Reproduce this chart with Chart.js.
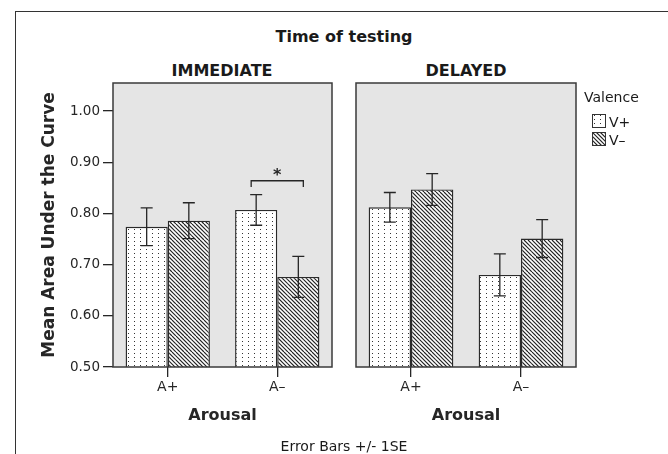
<!DOCTYPE html>
<html>
<head>
<meta charset="utf-8">
<script src="https://cdn.jsdelivr.net/npm/chart.js@4.4.1/dist/chart.umd.min.js"></script>
<style>
body { margin: 0; background: #fff; overflow: hidden; width: 668px; height: 454px; position: relative;
       font-family: 'DejaVu Sans', sans-serif; color: #1a1a1a; }
.frame { position: absolute; left: 15px; top: 11px; width: 700px; height: 500px; border: 1.5px solid #333; }
canvas.c { position: absolute; top: 0; }
.t { position: absolute; transform: translate(-50%, -50%); white-space: nowrap; }
.l { position: absolute; white-space: nowrap; transform: translateY(-50%); }
.sw { position: absolute; }
</style>
</head>
<body>
<div class="frame"></div>
<div class="t" style="left:344px;top:36px;font-weight:bold;font-size:16px">Time of testing</div>
<div class="t" style="left:222px;top:70px;font-weight:bold;font-size:16px">IMMEDIATE</div>
<div class="t" style="left:466px;top:70px;font-weight:bold;font-size:16px">DELAYED</div>
<canvas id="left" class="c" width="340" height="454" style="left:0"></canvas>
<canvas id="right" class="c" width="328" height="454" style="left:340px"></canvas>
<div class="l" style="left:584px;top:97px;font-size:14px">Valence</div>
<canvas id="swPos" class="sw" width="14" height="14" style="left:592px;top:114px"></canvas>
<div class="l" style="left:609px;top:122px;font-size:14px">V+</div>
<canvas id="swNeg" class="sw" width="14" height="14" style="left:592px;top:132px"></canvas>
<div class="l" style="left:609px;top:140px;font-size:14px">V–</div>
<div class="t" style="left:344px;top:446px;font-size:14px">Error Bars +/- 1SE</div>

<script>
// categories and values
const arousal = ['A+', 'A–'];
const valence = ['V+', 'V–'];
const yTicks = [0.50, 0.60, 0.70, 0.80, 0.90, 1.00];

const immediateVpos = [0.774, 0.807];
const immediateVneg = [0.786, 0.676];
const immediateVposSE = [0.037, 0.030];
const immediateVnegSE = [0.035, 0.040];

const delayedVpos = [0.812, 0.680];
const delayedVneg = [0.847, 0.751];
const delayedVposSE = [0.029, 0.041];
const delayedVnegSE = [0.031, 0.037];

const sigLevel = 0.864; // bracket over immediate A-

const ink = '#262626';

function dotPattern(ctx) {
    const c = document.createElement('canvas');
    c.width = 6; c.height = 4;
    const g = c.getContext('2d');
    g.fillStyle = '#fff';
    g.fillRect(0, 0, 6, 4);
    g.fillStyle = '#333';
    g.fillRect(2, 1, 1, 1);
    return ctx.createPattern(c, 'repeat');
}

function hatchPattern(ctx) {
    const c = document.createElement('canvas');
    c.width = 16; c.height = 16;
    const g = c.getContext('2d');
    g.fillStyle = '#fff';
    g.fillRect(0, 0, 16, 16);
    g.strokeStyle = '#222';
    g.lineWidth = 1.2;
    for (let k = -16; k <= 16; k += 4) {
        g.beginPath();
        g.moveTo(k, 0);
        g.lineTo(k + 16, 16);
        g.stroke();
    }
    return ctx.createPattern(c, 'repeat');
}

const panelPlugin = {
    id: 'panel',
    beforeDatasetsDraw(chart) {
        const a = chart.chartArea, ctx = chart.ctx;
        ctx.save();
        ctx.fillStyle = '#e5e5e5';
        ctx.fillRect(a.left, a.top, a.right - a.left, a.bottom - a.top);
        ctx.restore();
    },
    afterDatasetsDraw(chart) {
        const ctx = chart.ctx, y = chart.scales.y, a = chart.chartArea;
        ctx.save();
        ctx.strokeStyle = ink;
        ctx.lineWidth = 1.3;
        chart.data.datasets.forEach((ds, i) => {
            chart.getDatasetMeta(i).data.forEach((bar, j) => {
                const v = ds.data[j], se = ds.se[j];
                const top = y.getPixelForValue(v + se), bot = y.getPixelForValue(v - se);
                ctx.beginPath();
                ctx.moveTo(bar.x, top); ctx.lineTo(bar.x, bot);
                ctx.moveTo(bar.x - 6, top); ctx.lineTo(bar.x + 6, top);
                ctx.moveTo(bar.x - 6, bot); ctx.lineTo(bar.x + 6, bot);
                ctx.stroke();
            });
        });
        ctx.strokeStyle = '#3a3a3a';
        ctx.lineWidth = 1.5;
        ctx.strokeRect(a.left, a.top, a.right - a.left, a.bottom - a.top);
        ctx.restore();
    }
};

const bracketPlugin = {
    id: 'bracket',
    afterDatasetsDraw(chart) {
        const ctx = chart.ctx, y = chart.scales.y;
        const x1 = chart.getDatasetMeta(0).data[1].x - 5;
        const x2 = chart.getDatasetMeta(1).data[1].x + 5;
        const yb = y.getPixelForValue(sigLevel);
        const ye = y.getPixelForValue(sigLevel - 0.012);
        ctx.save();
        ctx.strokeStyle = ink;
        ctx.lineWidth = 1.3;
        ctx.beginPath();
        ctx.moveTo(x1, ye); ctx.lineTo(x1, yb); ctx.lineTo(x2, yb); ctx.lineTo(x2, ye);
        ctx.stroke();
        ctx.fillStyle = ink;
        ctx.font = 'bold 16px "DejaVu Sans"';
        ctx.textAlign = 'center';
        ctx.textBaseline = 'alphabetic';
        ctx.fillText('*', (x1 + x2) / 2, yb - 1);
        ctx.restore();
    }
};

function makePanel(id, vpos, vneg, vposSE, vnegSE, showY, padding, plugins) {
    const ctx = document.getElementById(id).getContext('2d');
    return new Chart(ctx, {
        type: 'bar',
        data: {
            labels: arousal,
            datasets: [
                { label: valence[0], data: vpos, se: vposSE, backgroundColor: dotPattern(ctx),
                  borderColor: '#2a2a2a', borderWidth: 1.4 },
                { label: valence[1], data: vneg, se: vnegSE, backgroundColor: hatchPattern(ctx),
                  borderColor: '#2a2a2a', borderWidth: 1.4 }
            ]
        },
        options: {
            responsive: false,
            animation: false,
            devicePixelRatio: 1,
            layout: { padding: padding },
            categoryPercentage: 0.77,
            barPercentage: 1.0,
            plugins: { legend: { display: false }, tooltip: { enabled: false } },
            scales: {
                x: {
                    offset: true,
                    afterFit: s => { s.height = 87; },
                    grid: { offset: false, drawOnChartArea: false, drawTicks: true, tickLength: 10,
                            tickColor: ink, lineWidth: 1.3 },
                    border: { display: false },
                    ticks: { color: ink, padding: 2, maxRotation: 0, font: { family: 'DejaVu Sans', size: 14 } },
                    title: { display: true, text: 'Arousal', color: ink, padding: { top: 0, bottom: 29 },
                             font: { family: 'DejaVu Sans', size: 16, weight: 'bold' } }
                },
                y: {
                    display: showY,
                    min: 0.5,
                    max: 1.055,
                    afterFit: s => { s.width = showY ? 113 : 0; },
                    afterBuildTicks: s => { s.ticks = yTicks.map(v => ({ value: v })); },
                    grid: { drawOnChartArea: false, drawTicks: true, tickLength: 10, tickColor: ink, lineWidth: 1.3 },
                    border: { display: false },
                    ticks: { color: ink, padding: 3, callback: v => Number(v).toFixed(2),
                             font: { family: 'DejaVu Sans', size: 13.5 } },
                    title: { display: true, text: 'Mean Area Under the Curve', color: ink,
                             padding: { top: 39, bottom: 0 },
                             font: { family: 'DejaVu Sans', size: 17, weight: 'bold' } }
                }
            }
        },
        plugins: [panelPlugin].concat(plugins)
    });
}

makePanel('left', immediateVpos, immediateVneg, immediateVposSE, immediateVnegSE, true,
    { top: 83, right: 8, bottom: 0, left: 0 }, [bracketPlugin]);
makePanel('right', delayedVpos, delayedVneg, delayedVposSE, delayedVnegSE, false,
    { top: 83, right: 92, bottom: 0, left: 16 }, []);

// legend swatches
[['swPos', dotPattern], ['swNeg', hatchPattern]].forEach(([id, fn]) => {
    const g = document.getElementById(id).getContext('2d');
    g.fillStyle = fn(g);
    g.fillRect(0, 0, 14, 14);
    g.strokeStyle = '#333';
    g.lineWidth = 1;
    g.strokeRect(0.5, 0.5, 13, 13);
});
</script>
</body>
</html>
